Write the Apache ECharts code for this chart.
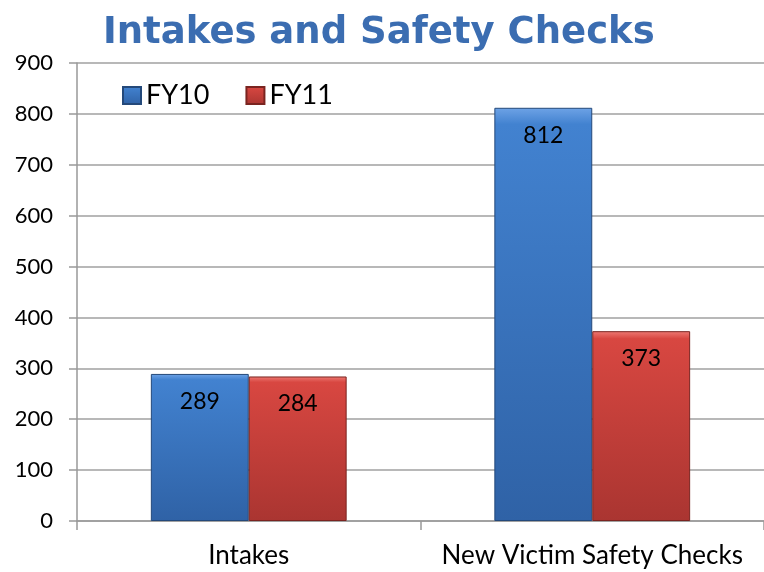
<!DOCTYPE html>
<html lang="en">
<head>
  <meta charset="UTF-8">
  <title>Intakes and Safety Checks</title>
  <style>
    html, body { margin: 0; padding: 0; background: #fff; }
    #main { width: 764px; height: 572px; }
  </style>
</head>
<body>
  <div id="main"></div>
  <script src="https://cdn.jsdelivr.net/npm/echarts@6/dist/echarts.min.js"></script>
  <script>
    var categories = ['Intakes', 'New Victim Safety Checks'];
    var fy10 = [289, 812];
    var fy11 = [284, 373];
    var yTicks = [0, 100, 200, 300, 400, 500, 600, 700, 800, 900];

    var chart = echarts.init(document.getElementById('main'));
    var font = 'Lato, "DejaVu Sans", sans-serif';

    function grad(top, mid, bottom) {
      return new echarts.graphic.LinearGradient(0, 0, 0, 1, [
        { offset: 0, color: top },
        { offset: 0.04, color: mid },
        { offset: 1, color: bottom }
      ]);
    }

    var option = {
      animation: false,
      title: {
        text: 'Intakes and Safety Checks',
        left: 98,
        top: 10,
        textStyle: {
          fontFamily: '"DejaVu Sans", sans-serif',
          fontWeight: 'bold',
          fontSize: 37,
          color: '#3B6DB1'
        }
      },
      legend: {
        left: 117,
        top: 77,
        itemWidth: 18,
        itemHeight: 17,
        itemGap: 36,
        icon: 'rect',
        textStyle: { fontFamily: font, fontSize: 27, color: '#000' },
        data: ['FY10', 'FY11']
      },
      grid: { left: 77, right: 0, top: 63, bottom: 51, containLabel: false },
      xAxis: {
        type: 'category',
        data: categories,
        axisLine: { lineStyle: { color: '#999', width: 1.5 } },
        axisTick: { show: true, length: 9, lineStyle: { color: '#999', width: 1.5 } },
        axisLabel: { interval: 0, hideOverlap: false, fontFamily: font, fontSize: 26, color: '#000', margin: 22 }
      },
      yAxis: {
        type: 'value',
        min: 0,
        max: 900,
        interval: 100,
        axisLine: { show: true, lineStyle: { color: '#999', width: 1.5 } },
        axisTick: { show: true, length: 8, lineStyle: { color: '#999', width: 1.5 } },
        axisLabel: {
          fontFamily: font, fontSize: 22, color: '#000', margin: 24,
          formatter: function (v) { return yTicks.indexOf(v) >= 0 ? String(v) : ''; }
        },
        splitLine: { lineStyle: { color: '#a0a0a0', width: 1.5 } }
      },
      series: [
        {
          name: 'FY10',
          type: 'bar',
          data: fy10,
          barWidth: '28.5%',
          barGap: '0%',
          itemStyle: {
            color: grad('#6ea3e6', '#4282d0', '#2f62a6'),
            borderColor: '#24497a',
            borderWidth: 1
          },
          label: {
            show: true,
            position: 'insideTop',
            distance: 16,
            fontFamily: font,
            fontSize: 23,
            color: '#000'
          }
        },
        {
          name: 'FY11',
          type: 'bar',
          data: fy11,
          barWidth: '28.5%',
          itemStyle: {
            color: grad('#ee7a74', '#d84741', '#aa3531'),
            borderColor: '#7a2420',
            borderWidth: 1
          },
          label: {
            show: true,
            position: 'insideTop',
            distance: 16,
            fontFamily: font,
            fontSize: 23,
            color: '#000'
          }
        }
      ]
    };

    chart.setOption(option);
  </script>
</body>
</html>
